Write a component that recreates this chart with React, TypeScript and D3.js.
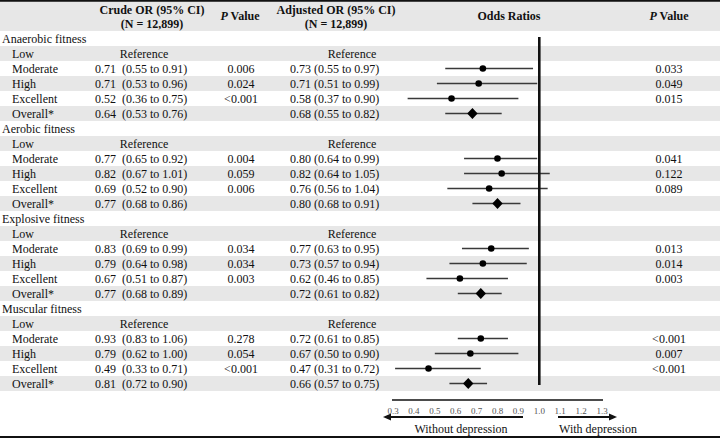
import React from "react";
import * as d3 from "d3";

const groups = ["Anaerobic fitness", "Aerobic fitness", "Explosive fitness", "Muscular fitness"];
const levels = ["Low", "Moderate", "High", "Excellent", "Overall*"];

// values for Moderate, High, Excellent, Overall* (Low = Reference)
const crudeEst = [[0.71, 0.71, 0.52, 0.64], [0.77, 0.82, 0.69, 0.77], [0.83, 0.79, 0.67, 0.77], [0.93, 0.79, 0.49, 0.81]];
const crudeLo = [[0.55, 0.53, 0.36, 0.53], [0.65, 0.67, 0.52, 0.68], [0.69, 0.64, 0.51, 0.68], [0.83, 0.62, 0.33, 0.72]];
const crudeHi = [[0.91, 0.96, 0.75, 0.76], [0.92, 1.01, 0.90, 0.86], [0.99, 0.98, 0.87, 0.89], [1.06, 1.00, 0.71, 0.90]];
const crudeP = [["0.006", "0.024", "<0.001", ""], ["0.004", "0.059", "0.006", ""], ["0.034", "0.034", "0.003", ""], ["0.278", "0.054", "<0.001", ""]];
const adjEst = [[0.73, 0.71, 0.58, 0.68], [0.80, 0.82, 0.76, 0.80], [0.77, 0.73, 0.62, 0.72], [0.72, 0.67, 0.47, 0.66]];
const adjLo = [[0.55, 0.51, 0.37, 0.55], [0.64, 0.64, 0.56, 0.68], [0.63, 0.57, 0.46, 0.61], [0.61, 0.50, 0.31, 0.57]];
const adjHi = [[0.97, 0.99, 0.90, 0.82], [0.99, 1.05, 1.04, 0.91], [0.95, 0.94, 0.85, 0.82], [0.85, 0.90, 0.72, 0.75]];
const adjP = [["0.033", "0.049", "0.015", ""], ["0.041", "0.122", "0.089", ""], ["0.013", "0.014", "0.003", ""], ["<0.001", "0.007", "<0.001", ""]];

const ticks = [0.3, 0.4, 0.5, 0.6, 0.7, 0.8, 0.9, 1.0, 1.1, 1.2, 1.3];

const W = 720;
const H = 438;
const FONT = "'Liberation Serif', 'Times New Roman', serif";
const GRAY = "#e7e7e7";

type Row = {
  kind: "group" | "level";
  label: string;
  g: number;
  l: number; // -1 for group, 0 = Low, 1..4
};

export default function App() {
  const rows: Row[] = [];
  groups.forEach((g, gi) => {
    rows.push({ kind: "group", label: g, g: gi, l: -1 });
    levels.forEach((lv, li) => rows.push({ kind: "level", label: lv, g: gi, l: li }));
  });

  const rowTop = 31;
  const rowH = 15;
  const y = d3.scaleLinear().domain([0, rows.length]).range([rowTop, rowTop + rowH * rows.length]);
  const x = d3.scaleLinear().domain([0.3, 1.3]).range([393, 602]);
  const f2 = d3.format(".2f");

  const diamondPath = "M0,-5.6 L5.2,0 L0,5.6 L-5.2,0 Z";

  return (
    <svg
      width={W}
      height={H}
      style={{ position: "absolute", left: 0, top: 0, background: "#fff" }}
      fontFamily={FONT}
    >
      {/* header band */}
      <rect x={0} y={0} width={W} height={rowTop} fill={GRAY} />
      <line x1={0} x2={W} y1={0.8} y2={0.8} stroke="#111" strokeWidth={1.8} />

      {/* row stripes */}
      {rows.map((r, i) =>
        i % 2 === 1 ? (
          <rect key={"s" + i} x={0} y={y(i)} width={W} height={rowH} fill={GRAY} />
        ) : null
      )}

      {/* headers */}
      <g fontWeight="bold" fontSize={12} fill="#111" textAnchor="middle">
        <text x={152} y={14}>Crude OR (95% CI)</text>
        <text x={152} y={28}>(N = 12,899)</text>
        <text x={240} y={20}>
          <tspan fontStyle="italic">P</tspan> Value
        </text>
        <text x={336} y={14}>Adjusted OR (95% CI)</text>
        <text x={336} y={28}>(N = 12,899)</text>
        <text x={509} y={20}>Odds Ratios</text>
        <text x={669} y={20}>
          <tspan fontStyle="italic">P</tspan> Value
        </text>
      </g>

      {/* rows text */}
      <g fontSize={12} fill="#111">
        {rows.map((r, i) => {
          const cy = y(i) + rowH / 2 + 4;
          if (r.kind === "group") {
            return (
              <text key={"t" + i} x={2} y={cy}>
                {r.label}
              </text>
            );
          }
          const items = [
            <text key="lab" x={12} y={cy}>
              {r.label}
            </text>,
          ];
          if (r.l === 0) {
            items.push(
              <text key="cr" x={144} y={cy} textAnchor="middle">
                Reference
              </text>,
              <text key="ar" x={352} y={cy} textAnchor="middle">
                Reference
              </text>
            );
          } else {
            const k = r.l - 1;
            const g = r.g;
            items.push(
              <text key="ce" x={95} y={cy}>
                {f2(crudeEst[g][k])}
              </text>,
              <text key="cc" x={122} y={cy}>
                {`(${f2(crudeLo[g][k])} to ${f2(crudeHi[g][k])})`}
              </text>,
              <text key="cp" x={241} y={cy} textAnchor="middle">
                {crudeP[g][k]}
              </text>,
              <text key="a" x={290} y={cy}>
                {`${f2(adjEst[g][k])} (${f2(adjLo[g][k])} to ${f2(adjHi[g][k])})`}
              </text>,
              <text key="ap" x={669} y={cy} textAnchor="middle">
                {adjP[g][k]}
              </text>
            );
          }
          return <g key={"t" + i}>{items}</g>;
        })}
      </g>

      {/* forest marks */}
      <g>
        {rows.map((r, i) => {
          if (r.kind !== "level" || r.l === 0) return null;
          const k = r.l - 1;
          const g = r.g;
          const cy = y(i) + rowH / 2;
          const overall = r.l === 4;
          return (
            <g key={"m" + i}>
              <line
                x1={x(adjLo[g][k])}
                x2={x(adjHi[g][k])}
                y1={cy}
                y2={cy}
                stroke="#3a3a3a"
                strokeWidth={1.3}
              />
              {overall ? (
                <path d={diamondPath} transform={`translate(${x(adjEst[g][k])},${cy})`} fill="#000" />
              ) : (
                <circle cx={x(adjEst[g][k])} cy={cy} r={3.3} fill="#000" />
              )}
            </g>
          );
        })}
      </g>

      {/* reference line */}
      <line x1={x(1)} x2={x(1)} y1={37} y2={385} stroke="#111" strokeWidth={2.6} />

      {/* axis */}
      <line x1={x(0.3) - 1} x2={x(1.3) + 1} y1={400} y2={400} stroke="#111" strokeWidth={1.5} />
      <g fontSize={9} fill="#555" textAnchor="middle">
        {ticks.map((t) => (
          <text key={t} x={x(t)} y={414}>
            {d3.format(".1f")(t)}
          </text>
        ))}
      </g>

      {/* arrows */}
      <line x1={523} x2={390} y1={417} y2={417} stroke="#111" strokeWidth={1.8} />
      <path d="M383,417 L391,413.5 L391,420.5 Z" fill="#111" />
      <line x1={558} x2={610} y1={417} y2={417} stroke="#111" strokeWidth={1.8} />
      <path d="M617,417 L609,413.5 L609,420.5 Z" fill="#111" />
      <g fontSize={12} fill="#111" textAnchor="middle">
        <text x={461} y={433}>Without depression</text>
        <text x={598} y={433}>With depression</text>
      </g>

      <line x1={0} x2={W} y1={437} y2={437} stroke="#111" strokeWidth={2} />
    </svg>
  );
}
